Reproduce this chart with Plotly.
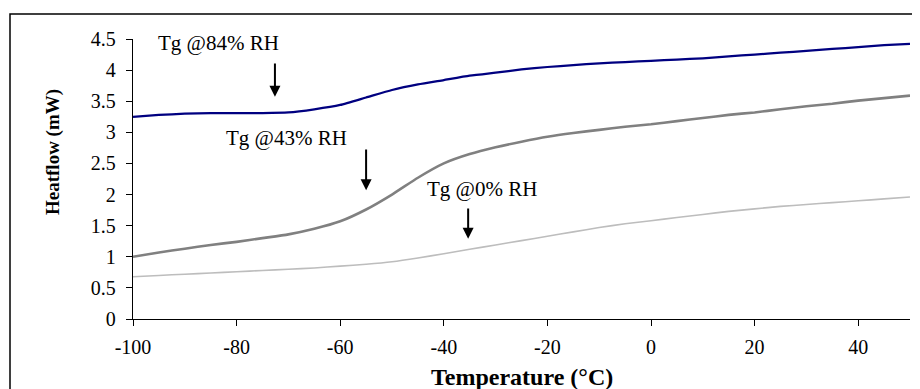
import plotly.graph_objects as go

temperature = [-100, -95, -90, -85, -80, -75, -70, -65, -60, -55, -50, -45, -40, -35, -30,
               -25, -20, -15, -10, -5, 0, 5, 10, 15, 20, 25, 30, 35, 40, 45, 50]

heatflow_84rh = [3.25, 3.28, 3.30, 3.31, 3.31, 3.31, 3.32, 3.37, 3.44, 3.56, 3.68, 3.77, 3.84,
                 3.91, 3.96, 4.01, 4.05, 4.08, 4.11, 4.13, 4.15, 4.17, 4.19, 4.22, 4.25, 4.28,
                 4.31, 4.34, 4.37, 4.40, 4.42]
heatflow_43rh = [1.00, 1.07, 1.13, 1.19, 1.24, 1.30, 1.36, 1.45, 1.57, 1.76, 2.00, 2.27, 2.50,
                 2.65, 2.76, 2.85, 2.93, 2.99, 3.04, 3.09, 3.13, 3.18, 3.23, 3.28, 3.32, 3.37,
                 3.42, 3.46, 3.51, 3.55, 3.59]
heatflow_0rh = [0.68, 0.70, 0.72, 0.74, 0.76, 0.78, 0.80, 0.82, 0.85, 0.88, 0.92, 0.98, 1.05,
                1.12, 1.19, 1.26, 1.33, 1.40, 1.47, 1.53, 1.58, 1.63, 1.68, 1.73, 1.77, 1.81,
                1.84, 1.87, 1.90, 1.93, 1.96]

# Tg markers: label text, label position, arrow x, arrow tail y, arrow tip y
tg_labels = ["Tg @84% RH", "Tg @43% RH", "Tg @0% RH"]
tg_label_x = [-83.4, -70.3, -32.6]
tg_label_y = [4.44, 2.91, 2.09]
tg_arrow_x = [-72.6, -55.0, -35.3]
tg_arrow_tail = [4.13, 2.75, 1.80]
tg_arrow_tip = [3.57, 2.07, 1.29]

x_ticks = [-100, -80, -60, -40, -20, 0, 20, 40]
x_tick_text = ["-100", "-80", "-60", "-40", "-20", "0", "20", "40"]
y_ticks = [0, 0.5, 1, 1.5, 2, 2.5, 3, 3.5, 4, 4.5]
y_tick_text = ["0", "0.5", "1", "1.5", "2", "2.5", "3", "3.5", "4", "4.5"]

FONT = "Liberation Serif, Times New Roman, serif"

fig = go.Figure()
series = [
    (heatflow_84rh, "#000080", 2.25, "84% RH"),
    (heatflow_43rh, "#808080", 2.6, "43% RH"),
    (heatflow_0rh, "#BDBDBD", 1.6, "0% RH"),
]
for vals, col, w, name in series:
    fig.add_trace(go.Scatter(x=temperature, y=vals, mode="lines", name=name,
                             line=dict(color=col, width=w, shape="spline", smoothing=0.5),
                             showlegend=False, hoverinfo="skip"))

annotations = []
for lab, lx, ly, axp, tail, tip in zip(tg_labels, tg_label_x, tg_label_y,
                                        tg_arrow_x, tg_arrow_tail, tg_arrow_tip):
    annotations.append(dict(x=lx, y=ly, xref="x", yref="y", text=lab, showarrow=False,
                            font=dict(family=FONT, size=21, color="black"),
                            xanchor="center", yanchor="middle"))
    annotations.append(dict(x=axp, y=tip, ax=axp, ay=tail, xref="x", yref="y",
                            axref="x", ayref="y", text="", showarrow=True,
                            arrowhead=2, arrowsize=1.1, arrowwidth=2, arrowcolor="black"))

OFF = 8  # default page body margin
W, H = 920 - OFF, 389 - OFF
L, T = 133 - OFF, 39 - OFF
pw, ph = 777, 280
R = W - L - pw
B = H - T - ph

def px_x(p):
    return (p - OFF - L) / pw

def px_y(p):
    return (T + ph - (p - OFF)) / ph

annotations.append(dict(x=px_x(53), y=px_y(152), xref="paper", yref="paper",
                        text="<b>Heatflow (mW)</b>", showarrow=False, textangle=-90,
                        font=dict(family=FONT, size=19, color="black"),
                        xanchor="center", yanchor="middle"))
annotations.append(dict(x=0.5, y=px_y(377), xref="paper", yref="paper",
                        text="<b>Temperature (°C)</b>", showarrow=False,
                        font=dict(family=FONT, size=24, color="black"),
                        xanchor="center", yanchor="middle"))

fig.update_layout(
    width=W, height=H,
    margin=dict(l=L, r=R, t=T, b=B),
    paper_bgcolor="white", plot_bgcolor="white",
    annotations=annotations,
    shapes=[dict(type="rect", xref="paper", yref="paper",
                 x0=px_x(10), x1=px_x(935), y0=px_y(400), y1=px_y(14),
                 line=dict(color="black", width=1.5), layer="below")],
    xaxis=dict(range=[-100, 50], tickvals=x_ticks, ticktext=x_tick_text, ticks="outside",
               ticklen=6, tickcolor="black", showline=True, linecolor="black", linewidth=1.3,
               showgrid=False, zeroline=False, ticklabelstandoff=4,
               tickfont=dict(family=FONT, size=20, color="black")),
    yaxis=dict(range=[0, 4.5], tickvals=y_ticks, ticktext=y_tick_text, ticks="outside",
               ticklen=6, tickcolor="black", showline=True, linecolor="black", linewidth=1.3,
               showgrid=False, zeroline=False, ticklabelstandoff=6,
               tickfont=dict(family=FONT, size=20, color="black")),
)

fig.write_html("out.html")
